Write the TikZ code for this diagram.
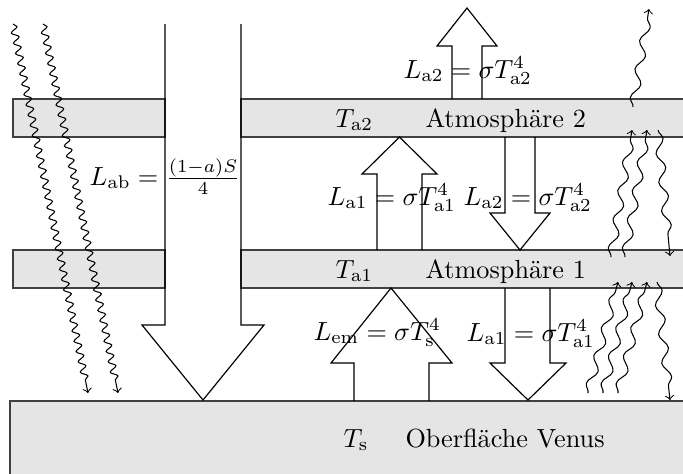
\documentclass[tikz,border=0pt]{standalone}
\usetikzlibrary{decorations.pathmorphing}
\begin{document}
\begin{tikzpicture}[x=0.3814pt,y=-0.3814pt,
  band/.style={draw=black!75, fill=black!10, line width=0.5pt},
  flux/.style={draw=black, line width=0.45pt, line join=miter},
  lbl/.style={inner sep=0pt, anchor=base west},
  wavein/.style={->, decorate, decoration={snake, amplitude=1.3pt, segment length=4pt, post length=4pt}},
  waveir/.style={->, decorate, decoration={snake, amplitude=1.6pt, segment length=11pt, post length=3pt}},
]
\useasboundingbox (0,0) rectangle (683,473);
\clip (0,0) rectangle (683,473);
% bands
\path[band] (10,401) rectangle (700,490);
\path[band] (13,99) rectangle (165,137);
\path[band] (241,99) rectangle (700,137);
\path[band] (13,250) rectangle (165,288);
\path[band] (241,250) rectangle (700,288);
% flux arrows
\draw[flux] (165,24) -- (165,325) -- (142,325) -- (203,400) -- (264,325) -- (241,325) -- (241,24);
\draw[flux] (354,401) -- (354,363) -- (331,363) -- (391,288) -- (452,363) -- (429,363) -- (429,401);
\draw[flux] (505,288) -- (505,363) -- (490,363) -- (528,400) -- (566,363) -- (550,363) -- (550,288);
\draw[flux] (377,250) -- (377,174) -- (362,174) -- (399.5,137) -- (437,174) -- (422,174) -- (422,250);
\draw[flux] (505,137) -- (505,213) -- (490,213) -- (520,250) -- (550,213) -- (535,213) -- (535,137);
\draw[flux] (452,99) -- (452,46) -- (437,46) -- (467,8) -- (497,46) -- (482,46) -- (482,99);
% radiation
\draw[wavein] (13,24) -- (88,393);
\draw[wavein] (43,24) -- (118,393);
\draw[waveir] (588,393) -- (618,282);
\draw[waveir] (603,393) -- (632,282);
\draw[waveir] (618,393) -- (647,282);
\draw[waveir] (657,282) -- (670,400);
\draw[waveir] (611,257) -- (632,130);
\draw[waveir] (625,257) -- (647,130);
\draw[waveir] (658,130) -- (670,256);
\draw[waveir] (633,107) -- (649,9);
% labels
\node[lbl] (la2top) at (403,78) {$L_{\mathrm{a2}} = \sigma T_{\mathrm{a2}}^4$};
\node[lbl] (ta2) at (335,127) {$T_{\mathrm{a2}}$};
\node[lbl] (atm2) at (425,127) {Atmosphäre 2};
\node[lbl] (lab) at (89,185) {$L_{\mathrm{ab}} = \frac{(1-a)S}{4}$};
\node[lbl] (la1up) at (327,205) {$L_{\mathrm{a1}} = \sigma T_{\mathrm{a1}}^4$};
\node[lbl] (la2dn) at (463,205) {$L_{\mathrm{a2}} = \sigma T_{\mathrm{a2}}^4$};
\node[lbl] (ta1) at (335,278) {$T_{\mathrm{a1}}$};
\node[lbl] (atm1) at (425,278) {Atmosphäre 1};
\node[lbl] (lem) at (313,340) {$L_{\mathrm{em}} = \sigma T_{\mathrm{s}}^4$};
\node[lbl] (la1dn) at (466,341) {$L_{\mathrm{a1}} = \sigma T_{\mathrm{a1}}^4$};
\node[lbl] (ts) at (343,447) {$T_{\mathrm{s}}$};
\node[lbl] (surf) at (405,447) {Oberfläche Venus};
\end{tikzpicture}
\end{document}
